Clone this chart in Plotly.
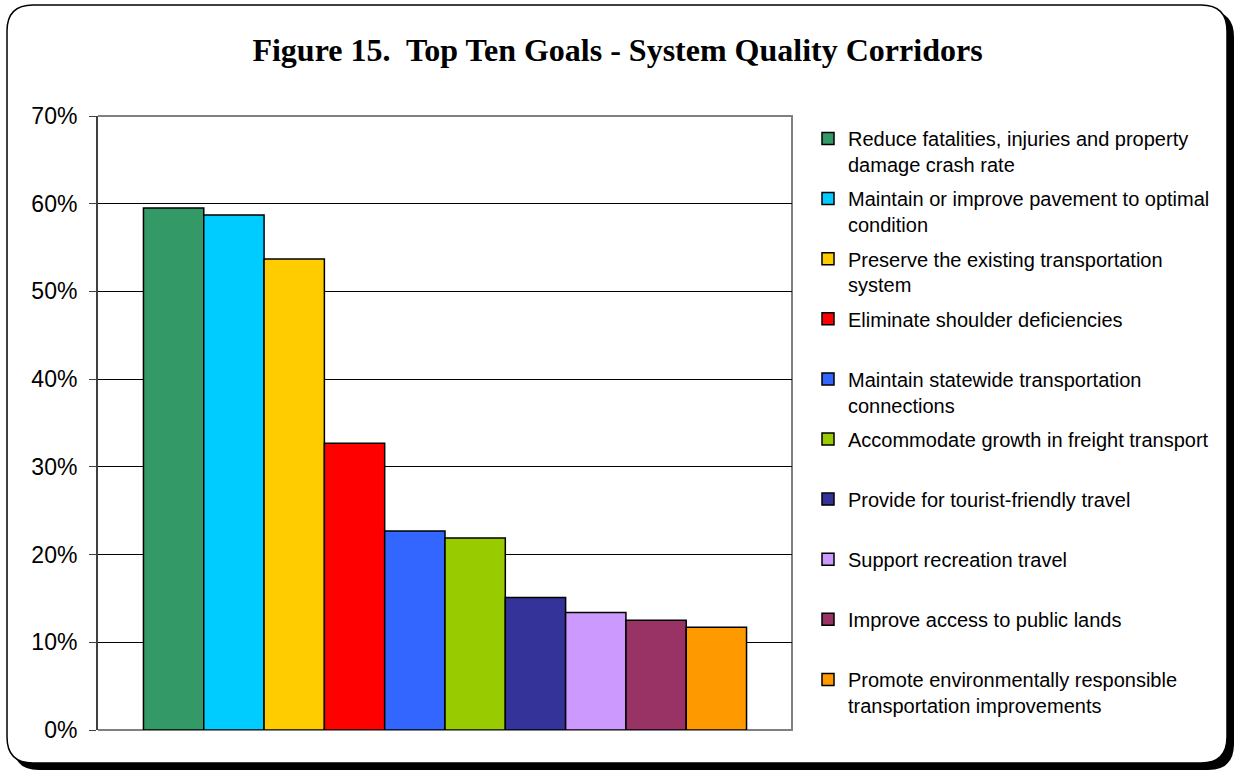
import plotly.graph_objects as go

# ---- data ----
goals = [
    "Reduce fatalities, injuries and property<br>damage crash rate",
    "Maintain or improve pavement to optimal<br>condition",
    "Preserve the existing transportation<br>system",
    "Eliminate shoulder deficiencies<br>\u00a0",
    "Maintain statewide transportation<br>connections",
    "Accommodate growth in freight transport<br>\u00a0",
    "Provide for tourist-friendly travel<br>\u00a0",
    "Support recreation travel<br>\u00a0",
    "Improve access to public lands<br>\u00a0",
    "Promote environmentally responsible<br>transportation improvements",
]
shares = [59.5, 58.7, 53.7, 32.7, 22.7, 21.9, 15.1, 13.4, 12.5, 11.7]
colors = ["#339966", "#00CCFF", "#FFCC00", "#FF0000", "#3366FF",
          "#99CC00", "#333399", "#CC99FF", "#993366", "#FF9900"]
y_ticks = [0, 10, 20, 30, 40, 50, 60, 70]
y_tick_labels = ["0%", "10%", "20%", "30%", "40%", "50%", "60%", "70%"]
title_text = "Figure 15.  Top Ten Goals - System Quality Corridors"

W, H = 1235, 772
ML, MR, MT, MB = 98, 443, 116, 42
PW, PH = W - ML - MR, H - MT - MB


def px(x):
    return (x - ML) / PW


def py(y):
    return (H - MB - y) / PH


def rrect(x0, y0, x1, y1, r):
    pts = [
        f"M{px(x0 + r)},{py(y0)}",
        f"L{px(x1 - r)},{py(y0)}",
        f"Q{px(x1)},{py(y0)} {px(x1)},{py(y0 + r)}",
        f"L{px(x1)},{py(y1 - r)}",
        f"Q{px(x1)},{py(y1)} {px(x1 - r)},{py(y1)}",
        f"L{px(x0 + r)},{py(y1)}",
        f"Q{px(x0)},{py(y1)} {px(x0)},{py(y1 - r)}",
        f"L{px(x0)},{py(y0 + r)}",
        f"Q{px(x0)},{py(y0)} {px(x0 + r)},{py(y0)}",
        "Z",
    ]
    return " ".join(pts)


fig = go.Figure()
for i, (g, v, c) in enumerate(zip(goals, shares, colors)):
    fig.add_trace(go.Bar(
        x=[0], y=[v], name=g, legendgroup=f"g{i}",
        marker=dict(color=c, line=dict(color="black", width=1.5)),
    ))

shapes = [
    # shadow
    dict(type="path", xref="paper", yref="paper", layer="below",
         path=rrect(13, 11, 1234, 770, 26),
         fillcolor="black", line=dict(width=0)),
    # frame
    dict(type="path", xref="paper", yref="paper", layer="below",
         path=rrect(7, 5, 1227, 763, 26),
         fillcolor="white", line=dict(color="black", width=1.5)),
    # plot area border (top, right, bottom)
    dict(type="path", xref="paper", yref="paper", layer="between",
         path="M0,1 L1,1 L1,0 L0,0",
         line=dict(color="#808080", width=2)),
]

fig.update_layout(
    width=W, height=H,
    margin=dict(l=ML, r=MR, t=MT, b=MB),
    paper_bgcolor="white", plot_bgcolor="rgba(0,0,0,0)",
    barmode="group", bargap=0.131, bargroupgap=0,
    showlegend=True,
    title=dict(text=f"<b>{title_text}</b>", x=0.5, xref="container", xanchor="center",
               y=1 - 50 / H, yanchor="middle",
               font=dict(family="Liberation Serif, Times New Roman, serif", size=32, color="black")),
    legend=dict(
        x=px(808), xanchor="left", y=py(119), yanchor="top",
        font=dict(family="Liberation Sans, Arial, sans-serif", size=20, color="black"),
        valign="top", tracegroupgap=5.1, traceorder="grouped",
        bgcolor="rgba(0,0,0,0)", borderwidth=0,
    ),
    xaxis=dict(range=[-0.5, 0.5], showticklabels=False, showgrid=False,
               zeroline=False, showline=False, ticks=""),
    yaxis=dict(range=[0, 70], tickvals=y_ticks, ticktext=y_tick_labels,
               showgrid=True, gridcolor="black", gridwidth=1,
               zeroline=False, showline=True, linecolor="#404040", linewidth=2,
               ticks="outside", ticklen=7, tickcolor="#404040", tickwidth=1,
               ticklabelstandoff=7,
               tickfont=dict(family="Liberation Sans, Arial, sans-serif", size=23, color="black")),
    shapes=shapes,
    hovermode=False,
)

fig.write_html("out.html")
